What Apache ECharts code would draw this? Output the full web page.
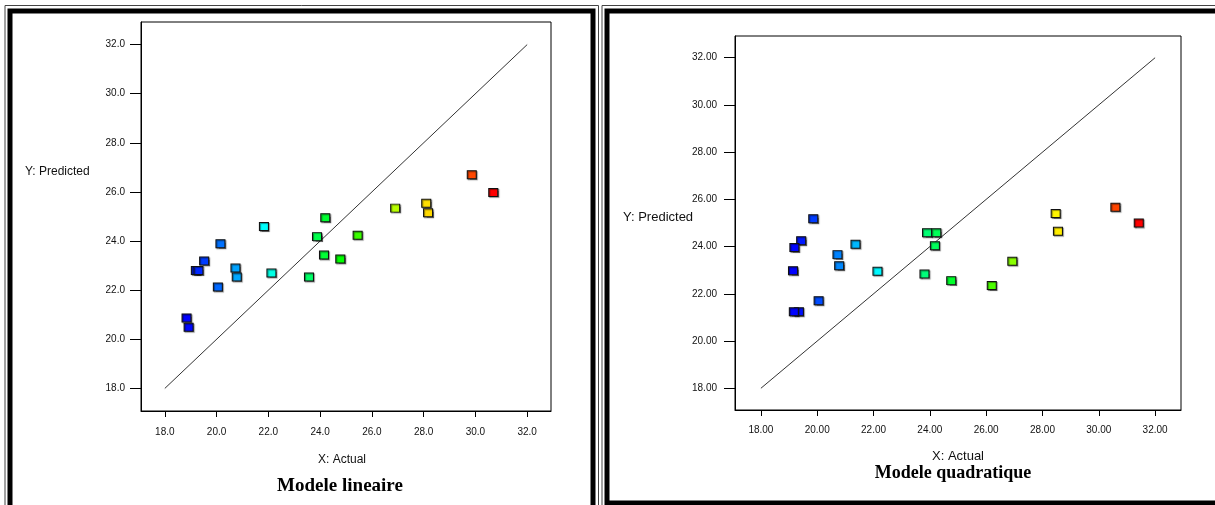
<!DOCTYPE html>
<html>
<head>
<meta charset="utf-8">
<script src="https://cdn.jsdelivr.net/npm/echarts@6/dist/echarts.min.js"></script>
<style>
html,body{margin:0;padding:0;background:#fff;}
#chart{width:1215px;height:505px;}
</style>
</head>
<body>
<div id="chart"></div>
<script>
// ---- data ----
const tickValues = [18, 20, 22, 24, 26, 28, 30, 32];
const diagonalEnds = [18, 32];
// Modele lineaire
const linActual    = [24.20, 21.83, 20.15, 23.88, 25.45, 19.52, 19.20, 19.30, 20.73, 20.78, 20.05, 22.12, 24.15, 24.78, 23.57, 18.84, 18.92, 26.90, 28.10, 28.17, 29.86, 30.69];
const linPredicted = [24.95, 24.59, 23.89, 24.18, 24.24, 23.19, 22.80, 22.80, 22.90, 22.54, 22.13, 22.70, 23.43, 23.27, 22.54, 20.87, 20.49, 25.34, 25.54, 25.15, 26.70, 25.98];
// Modele quadratique
const quadActual    = [19.86, 19.43, 19.19, 21.36, 20.72, 20.78, 19.14, 22.14, 20.05, 19.35, 19.17, 23.81, 23.90, 24.23, 24.18, 24.76, 26.20, 26.93, 28.47, 28.55, 30.59, 31.42];
const quadPredicted = [25.18, 24.25, 23.96, 24.10, 23.66, 23.19, 22.98, 22.96, 21.71, 21.24, 21.24, 22.84, 24.59, 24.59, 24.04, 22.56, 22.35, 23.38, 25.40, 24.65, 25.67, 25.00];

const panelTitles = ['Modele lineaire', 'Modele quadratique'];
const xTitle = 'X: Actual';
const yTitle = 'Y: Predicted';

function pairs(a, b) { return a.map((v, i) => [v, b[i]]); }

const axisMin = 17.08, axisMax = 32.92;
const lblFont = "'Liberation Sans', Arial, sans-serif";

function makeX(gi, dec, margin) {
  return {
    gridIndex: gi, type: 'value', min: axisMin, max: axisMax,
    axisLine: { show: true, onZero: false, lineStyle: { color: '#000', width: 1 } },
    axisTick: { show: true, inside: false, length: 6, customValues: tickValues, lineStyle: { color: '#000' } },
    axisLabel: { customValues: tickValues, formatter: v => Number(v).toFixed(dec), color: '#111', fontSize: 10, fontFamily: lblFont, margin: margin },
    splitLine: { show: false }
  };
}
function makeY(gi, dec, margin) {
  return {
    gridIndex: gi, type: 'value', min: axisMin, max: axisMax,
    axisLine: { show: true, onZero: false, lineStyle: { color: '#000', width: 1 } },
    axisTick: { show: true, inside: false, length: 11, customValues: tickValues, lineStyle: { color: '#000' } },
    axisLabel: { customValues: tickValues, formatter: v => Number(v).toFixed(dec), color: '#111', fontSize: 10, fontFamily: lblFont, margin: margin },
    splitLine: { show: false }
  };
}

const markerStyle = {
  opacity: 1,
  borderColor: '#111', borderWidth: 1,
  shadowColor: 'rgba(0,0,0,0.45)', shadowBlur: 1, shadowOffsetX: 1, shadowOffsetY: 1
};
const hueRamp = ['#0000ff', '#00ffff', '#00ff00', '#ffff00', '#ff0000'];

const chart = echarts.init(document.getElementById('chart'), null, { renderer: 'canvas' });
chart.setOption({
  animation: false,
  backgroundColor: '#fff',
  grid: [
    { left: 141, top: 22, width: 410, height: 389, show: true, borderColor: '#000', borderWidth: 1, backgroundColor: 'transparent' },
    { left: 735, top: 36, width: 446, height: 374, show: true, borderColor: '#000', borderWidth: 1, backgroundColor: 'transparent' }
  ],
  xAxis: [ makeX(0, 1, 16), makeX(1, 2, 15) ],
  yAxis: [ makeY(0, 1, 16), makeY(1, 2, 18) ],
  visualMap: [
    { type: 'continuous', show: false, seriesIndex: 1, dimension: 0,
      min: Math.min(...linActual), max: Math.max(...linActual),
      inRange: { color: hueRamp } },
    { type: 'continuous', show: false, seriesIndex: 3, dimension: 0,
      min: Math.min(...quadActual), max: Math.max(...quadActual),
      inRange: { color: hueRamp } }
  ],
  series: [
    { type: 'line', xAxisIndex: 0, yAxisIndex: 0, data: pairs(diagonalEnds, diagonalEnds), symbol: 'none',
      lineStyle: { color: '#333', width: 1 }, silent: true, z: 2 },
    { type: 'scatter', xAxisIndex: 0, yAxisIndex: 0, data: pairs(linActual, linPredicted), symbol: 'rect',
      symbolSize: [9, 8], itemStyle: markerStyle, z: 3 },
    { type: 'line', xAxisIndex: 1, yAxisIndex: 1, data: pairs(diagonalEnds, diagonalEnds), symbol: 'none',
      lineStyle: { color: '#333', width: 1 }, silent: true, z: 2 },
    { type: 'scatter', xAxisIndex: 1, yAxisIndex: 1, data: pairs(quadActual, quadPredicted), symbol: 'rect',
      symbolSize: [9, 8], itemStyle: markerStyle, z: 3 }
  ],
  graphic: [
    // left panel frame
    { type: 'rect', shape: { x: 5, y: 5.5, width: 593.5, height: 520 }, style: { fill: null, stroke: '#444', lineWidth: 1 }, silent: true },
    { type: 'rect', shape: { x: 10, y: 11, width: 583, height: 520 }, style: { fill: null, stroke: '#000', lineWidth: 5 }, silent: true },
    // right panel frame
    { type: 'rect', shape: { x: 602, y: 5.5, width: 640, height: 520 }, style: { fill: null, stroke: '#444', lineWidth: 1 }, silent: true },
    { type: 'rect', shape: { x: 607, y: 11, width: 640, height: 492 }, style: { fill: null, stroke: '#000', lineWidth: 5 }, silent: true },
    // axis titles
    { type: 'text', x: 25, y: 172, style: { text: yTitle, fill: '#111', font: "12px 'Liberation Sans', Arial, sans-serif", textVerticalAlign: 'middle' } },
    { type: 'text', x: 342, y: 460, style: { text: xTitle, fill: '#111', font: "12px 'Liberation Sans', Arial, sans-serif", textAlign: 'center', textVerticalAlign: 'middle' } },
    { type: 'text', x: 623, y: 217, style: { text: yTitle, fill: '#111', font: "13px 'Liberation Sans', Arial, sans-serif", textVerticalAlign: 'middle' } },
    { type: 'text', x: 958, y: 456, style: { text: xTitle, fill: '#111', font: "13px 'Liberation Sans', Arial, sans-serif", textAlign: 'center', textVerticalAlign: 'middle' } },
    // panel titles
    { type: 'text', x: 340, y: 486, style: { text: panelTitles[0], fill: '#000', font: "bold 19px 'Liberation Serif', 'Times New Roman', serif", textAlign: 'center', textVerticalAlign: 'middle' } },
    { type: 'text', x: 953, y: 473, style: { text: panelTitles[1], fill: '#000', font: "bold 18px 'Liberation Serif', 'Times New Roman', serif", textAlign: 'center', textVerticalAlign: 'middle' } }
  ]
});
</script>
</body>
</html>
